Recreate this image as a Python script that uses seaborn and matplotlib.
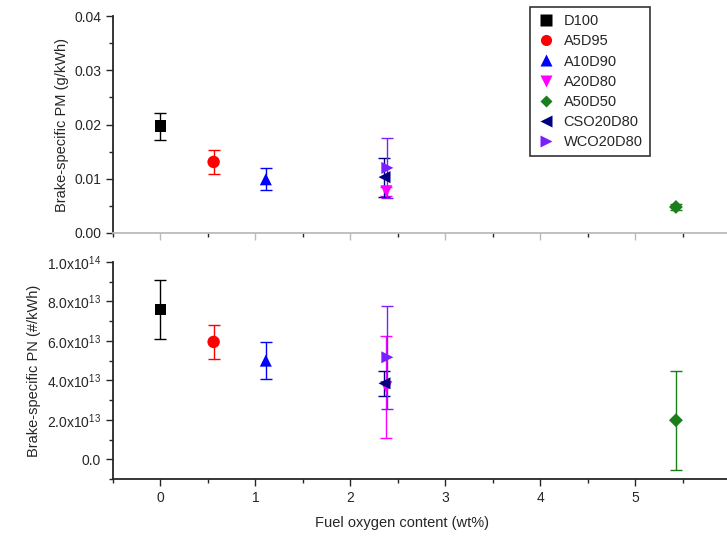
import numpy as np
import pandas as pd
import matplotlib
matplotlib.use('Agg')
import matplotlib.pyplot as plt
import seaborn as sns
from matplotlib.ticker import MultipleLocator, FuncFormatter

# fuels and their oxygen content (wt%)
fuels = ['D100', 'A5D95', 'A10D90', 'A20D80', 'A50D50', 'CSO20D80', 'WCO20D80']
oxygen = [0.0, 0.56, 1.11, 2.38, 5.43, 2.36, 2.39]

# brake-specific PM (g/kWh) and error
pm = [0.0197, 0.0131, 0.0099, 0.0077, 0.0048, 0.0103, 0.0120]
pm_err = [0.0025, 0.0022, 0.0020, 0.0008, 0.0005, 0.0036, 0.0055]

# brake-specific PN (#/kWh) and error
pn = [7.6e13, 5.95e13, 5.0e13, 3.66e13, 1.98e13, 3.85e13, 5.17e13]
pn_err = [1.5e13, 0.85e13, 0.95e13, 2.57e13, 2.5e13, 0.65e13, 2.6e13]

colors = ['#000000', '#FF0000', '#0000FF', '#FF00FF', '#1A7F1A', '#000080', '#7B1FFF']
markers = ['s', 'o', '^', 'v', 'D', '<', '>']
msizes = [70, 80, 75, 75, 50, 75, 75]

df = pd.DataFrame({'Fuel': fuels, 'O2': oxygen, 'PM': pm, 'PM_err': pm_err,
                   'PN': pn, 'PN_err': pn_err})
palette = dict(zip(fuels, colors))
marker_map = dict(zip(fuels, markers))
size_map = dict(zip(fuels, msizes))

sns.set_style('ticks')
plt.rcParams['font.family'] = ['Liberation Sans', 'DejaVu Sans']
plt.rcParams['mathtext.fontset'] = 'custom'
plt.rcParams['mathtext.rm'] = 'Liberation Sans'

fig = plt.figure(figsize=(7.27, 5.4), dpi=100)
W, H = 727, 540
x0, x1 = 113, 749
ax1 = fig.add_axes([x0 / W, (H - 233) / H, (x1 - x0) / W, 217 / H])
ax2 = fig.add_axes([x0 / W, (H - 479) / H, (x1 - x0) / W, 217 / H])

for ax, col, ecol in [(ax1, 'PM', 'PM_err'), (ax2, 'PN', 'PN_err')]:
    for i, row in df.iterrows():
        ax.errorbar(row['O2'], row[col], yerr=row[ecol], fmt='none',
                    ecolor=palette[row['Fuel']], elinewidth=1.0,
                    capsize=4.5, capthick=1.0, zorder=2)
    sns.scatterplot(data=df, x='O2', y=col, hue='Fuel', style='Fuel',
                    size='Fuel', sizes=size_map,
                    palette=palette, markers=marker_map,
                    edgecolor='none', ax=ax, zorder=3,
                    legend=(ax is ax1))
    ax.set_xlim(-0.5, 6.2)
    ax.xaxis.set_major_locator(MultipleLocator(1))
    ax.xaxis.set_minor_locator(MultipleLocator(0.5))
    for s in ['top', 'right']:
        ax.spines[s].set_visible(False)
    ax.tick_params(axis='both', which='major', direction='out', length=5,
                   width=1.0, labelsize=10)
    ax.tick_params(axis='both', which='minor', direction='out', length=3,
                   width=1.0)

# top panel
ax1.set_ylim(0, 0.04)
ax1.yaxis.set_major_locator(MultipleLocator(0.01))
ax1.yaxis.set_minor_locator(MultipleLocator(0.005))
ax1.yaxis.set_major_formatter(FuncFormatter(lambda v, p: f'{v:.2f}'))
ax1.set_xlabel('')
ax1.set_ylabel('Brake-specific PM (g/kWh)', fontsize=10.5)
ax1.tick_params(axis='x', labelbottom=False, color='#BBBBBB')
ax1.spines['bottom'].set_color('#BBBBBB')
ax1.spines['left'].set_linewidth(1.3)
ax1.spines['bottom'].set_linewidth(1.3)

handles, labels = ax1.get_legend_handles_labels()
for h, lab in zip(handles, labels):
    h.set_markersize(6.5 if lab == 'A50D50' else 8)
ax1.legend(handles, labels, loc='upper left',
           bbox_to_anchor=(530 / W, 1 - 7 / H), bbox_transform=fig.transFigure,
           borderaxespad=0, frameon=True, fancybox=False, edgecolor='black',
           fontsize=10.5, labelspacing=0.42, handletextpad=0.6,
           handlelength=1.2, borderpad=0.5)
ax1.get_legend().get_frame().set_linewidth(1.2)


# bottom panel
def sci_fmt(v, p):
    if abs(v) < 1:
        return '0.0'
    e = int(np.floor(np.log10(abs(v))))
    m = v / 10 ** e
    return f'{m:.1f}x10$^{{{e}}}$'


ax2.set_ylim(-1e13, 1e14)
ax2.set_yticks([0, 2e13, 4e13, 6e13, 8e13, 1e14])
ax2.yaxis.set_minor_locator(MultipleLocator(1e13))
ax2.yaxis.set_major_formatter(FuncFormatter(sci_fmt))
ax2.set_ylabel('Brake-specific PN (#/kWh)', fontsize=10.5)
ax2.set_xlabel('Fuel oxygen content (wt%)', fontsize=10.5)
ax2.xaxis.set_label_coords((402 - x0) / (x1 - x0), -0.17)
ax2.spines['left'].set_linewidth(1.3)
ax2.spines['bottom'].set_linewidth(1.3)

fig.savefig('out.png', dpi=100)
